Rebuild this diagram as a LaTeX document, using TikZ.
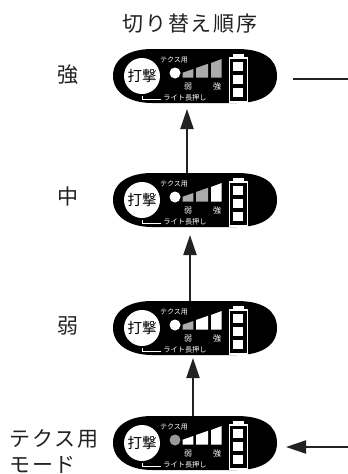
\documentclass[tikz,border=0pt]{standalone}
\usepackage{fontspec}
\setmainfont{Noto Sans CJK JP}
\usetikzlibrary{arrows.meta}
\definecolor{bargray}{HTML}{ABABAB}
\definecolor{dotgray}{HTML}{999999}
\definecolor{ink}{HTML}{222222}
\tikzset{x=1pt,y=-1pt,
 lbl/.style={font=\fontsize{21}{22}\addfontfeatures{LetterSpace=9}\selectfont,text=ink,inner sep=0pt},
 tinytxt/.style={font=\fontsize{7}{7}\selectfont,text=white,inner sep=0pt},
 conn/.style={draw=ink,line width=2pt,-{Triangle[length=20pt,width=13pt]}},
 plain/.style={draw=ink,line width=2pt},
 pics/panel/.style n args={4}{code={
  \fill[black] (-29,0) .. controls (-29,-18) and (-12,-27) .. (10,-27) -- (95,-27)
     .. controls (120,-27) and (135,-18) .. (135,0)
     .. controls (135,17) and (120,27) .. (95,27) -- (10,27)
     .. controls (-12,27) and (-29,17) .. (-29,0) -- cycle;
  \fill[white] (0,0) circle (18);
  \node[font=\fontsize{14.5}{15}\selectfont,inner sep=0pt,text=black] at (0,0) {打撃};
  \node[tinytxt] at (32,-16) {テクス用};
  \node[tinytxt,font=\fontsize{8}{8}\selectfont] at (46,10.5) {弱};
  \node[tinytxt,font=\fontsize{8}{8}\selectfont] at (75,10.5) {強};
  \node[tinytxt,font=\fontsize{7.2}{7}\selectfont] at (43,22) {ライト長押し};
  \draw[white,line width=0.9pt] (0.5,20) -- (0.5,23) -- (19,23);
  \fill[#1] (33,-3) circle (5.5);
  \fill[#2] (40.7,-3.3) -- (51.3,-7) -- (51.3,1.5) -- (40.7,1.5) -- cycle;
  \fill[#3] (54,-8) -- (66,-12.2) -- (66,1.5) -- (54,1.5) -- cycle;
  \fill[#4] (69,-13) -- (79.7,-17) -- (79.7,1.5) -- (69,1.5) -- cycle;
  \foreach \i in {1,2,3}{\fill[white] (91,-27.3+13*\i) rectangle ++(10,9.3);}
  \draw[white,line width=1.3pt] (87.5,-18) rectangle (105.5,26);
  \fill[white] (91,-22.5) rectangle (102,-18);
 }}}
\begin{document}
\begin{tikzpicture}
\path[use as bounding box] (0,0) rectangle (348,474);
\fill[white] (0,0) rectangle (348,474);
\node[lbl] (title) at (190,24) {切り替え順序};
\node[lbl] (ls) at (68,75) {強};
\node[lbl] (lm) at (68,197) {中};
\node[lbl] (lw) at (68,326) {弱};
\node[lbl,anchor=west] (lt) at (9,439) {テクス用};
\node[lbl,anchor=west] (lm2) at (9,464.5) {モード};
\pic at (142,76) {panel={white}{bargray}{bargray}{bargray}};
\pic at (142,200) {panel={white}{bargray}{bargray}{white}};
\pic at (142,328) {panel={white}{bargray}{white}{white}};
\pic at (142,443) {panel={dotgray}{white}{white}{white}};
\coordinate (a1s) at (187,173); \coordinate (a1e) at (187,109);
\coordinate (a2s) at (190,301); \coordinate (a2e) at (190,235);
\coordinate (a3s) at (193,416); \coordinate (a3e) at (193,358);
\coordinate (a4s) at (348,447); \coordinate (a4e) at (286,447);
\coordinate (l1s) at (293,79); \coordinate (l1e) at (348,79);
\draw[conn] (a1s) -- (a1e);
\draw[conn] (a2s) -- (a2e);
\draw[conn] (a3s) -- (a3e);
\draw[conn] (a4s) -- (a4e);
\draw[plain] (l1s) -- (l1e);
\end{tikzpicture}
\end{document}
